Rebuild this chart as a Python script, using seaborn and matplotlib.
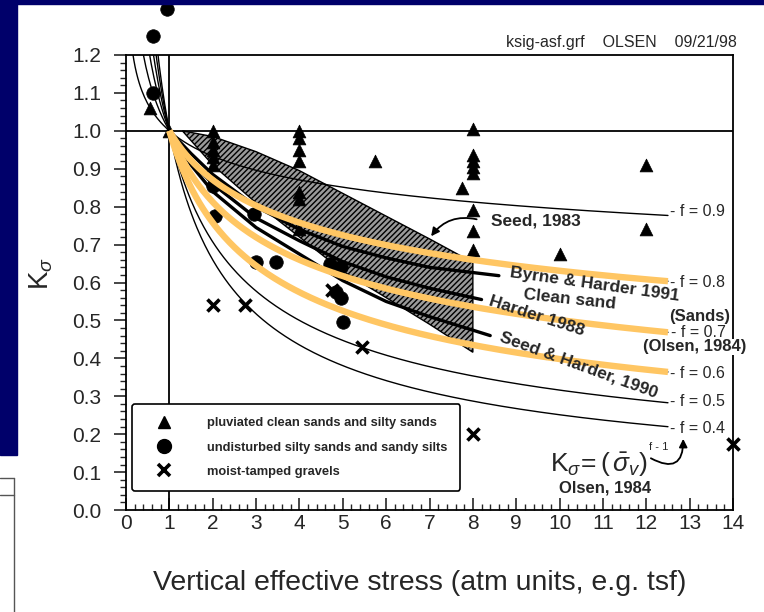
import numpy as np
import pandas as pd
import matplotlib
matplotlib.use("Agg")
import matplotlib.pyplot as plt
import seaborn as sns
from matplotlib.patches import Polygon, Rectangle
from matplotlib.lines import Line2D
from matplotlib.ticker import MultipleLocator, FormatStrFormatter

sns.set_theme(style="white")
plt.rcParams['font.family'] = ['Liberation Sans', 'DejaVu Sans']
plt.rcParams['mathtext.fontset'] = 'custom'
plt.rcParams['mathtext.rm'] = 'Liberation Sans'
plt.rcParams['mathtext.it'] = 'Liberation Sans:italic'
plt.rcParams['mathtext.sf'] = 'Liberation Sans'
plt.rcParams['hatch.linewidth'] = 1.0
plt.rcParams['hatch.color'] = 'black'

# ---- data -------------------------------------------------------------
# exponent f of the Olsen (1984) relation K_sigma = sigma_v ** (f - 1)
f_values = [0.9, 0.8, 0.7, 0.6, 0.5, 0.4]
highlight_f = [0.8, 0.7, 0.6]
f_label_k = [0.786, 0.599, 0.467, 0.361, 0.285, 0.216]

# pluviated clean sands and silty sands
tri_x = [0.55, 1.0, 2.0, 2.0, 2.0, 2.0, 2.0, 4.0, 4.0, 4.0, 4.0, 4.0, 4.0, 4.0,
         5.75, 7.75, 8.0, 8.0, 8.0, 8.0, 8.0, 8.0, 8.0, 8.0, 10.0, 12.0, 12.0]
tri_k = [1.06, 1.0, 1.0, 0.97, 0.95, 0.93, 0.91, 1.0, 0.98, 0.95, 0.92, 0.84, 0.82, 0.74,
         0.92, 0.85, 1.005, 0.935, 0.92, 0.905, 0.89, 0.79, 0.735, 0.685, 0.675, 0.91, 0.74]

# undisturbed silty sands and sandy silts
cir_x = [0.62, 0.95, 0.62, 2.0, 2.05, 2.95, 3.0, 3.45, 4.7, 4.95, 4.85, 4.95, 5.0]
cir_k = [1.25, 1.32, 1.10, 0.855, 0.775, 0.78, 0.655, 0.655, 0.65, 0.64, 0.575, 0.56, 0.495]

# moist-tamped gravels
grv_x = [2.0, 2.75, 4.75, 5.45, 8.0, 14.0]
grv_k = [0.54, 0.54, 0.58, 0.43, 0.20, 0.175]

# Seed (1983) band
band_x = [1.3, 2.0, 3.0, 4.0, 5.0, 6.0, 7.0, 8.0, 8.0, 7.0, 6.0, 5.0, 4.0, 3.0, 2.0, 1.3]
band_k = [1.0, 0.985, 0.945, 0.895, 0.835, 0.775, 0.715, 0.653, 0.416, 0.49, 0.56, 0.63, 0.72, 0.81, 0.91, 1.0]

# published relations
byrne_x = [1.0, 1.5, 2.0, 3.0, 4.0, 5.0, 6.0, 7.0, 8.6]
byrne_k = [1.0, 0.94, 0.885, 0.80, 0.74, 0.695, 0.665, 0.64, 0.618]
harder_x = [1.0, 1.5, 2.0, 3.0, 4.0, 5.0, 6.0, 7.0, 8.2]
harder_k = [1.0, 0.92, 0.86, 0.77, 0.71, 0.655, 0.615, 0.585, 0.555]
seedh_x = [1.0, 1.5, 2.0, 3.0, 4.0, 5.0, 6.0, 7.0, 8.4]
seedh_k = [1.0, 0.91, 0.84, 0.745, 0.675, 0.605, 0.55, 0.51, 0.46]

x_ticks = list(range(0, 15))
y_ticks = [0.0, 0.1, 0.2, 0.3, 0.4, 0.5, 0.6, 0.7, 0.8, 0.9, 1.0, 1.1, 1.2]

# ---- figure -------------------------------------------------------------
W, H = 764, 612
fig = plt.figure(figsize=(W / 100, H / 100), dpi=100, facecolor='white')
ax = fig.add_axes([126 / W, 1 - 510 / H, 607 / W, 455 / H])
ax.set_facecolor('white')

navy = '#00006a'
fig.patches.append(Rectangle((0, 1 - 4 / H), 1, 4 / H, transform=fig.transFigure,
                             color=navy, zorder=0))
fig.patches.append(Rectangle((0, 1 - 455 / H), 17 / W, 455 / H, transform=fig.transFigure,
                             color=navy, zorder=0))
for (x0, y0, x1, y1) in [(0, 478, 14, 478), (14, 478, 14, 612), (0, 495, 14, 495)]:
    fig.lines.append(Line2D([x0 / W, x1 / W], [1 - y0 / H, 1 - y1 / H],
                            transform=fig.transFigure, color='#555555', lw=1.0))

# hatched band
ax.add_patch(Polygon(np.column_stack([band_x, band_k]), closed=True, facecolor='#9a9a9a',
                     edgecolor='black', hatch='//////', lw=1.0, zorder=2))

# f curves
sig = np.linspace(0.15, 12.5, 400)
curves = pd.concat([pd.DataFrame({'stress': sig, 'K': sig ** (f - 1), 'f': str(f)})
                    for f in f_values])
sns.lineplot(data=curves, x='stress', y='K', units='f', estimator=None, color='black',
             lw=1.0, sort=False, ax=ax, zorder=3)

# published relations
for xs, ks in [(byrne_x, byrne_k), (harder_x, harder_k), (seedh_x, seedh_k)]:
    sns.lineplot(x=xs, y=ks, color='black', lw=2.4, ax=ax, zorder=4, sort=False)

# highlighted curves
sig_h = np.linspace(1.0, 12.5, 300)
hl = pd.concat([pd.DataFrame({'stress': sig_h, 'K': sig_h ** (f - 1), 'f': str(f)})
                for f in highlight_f])
sns.lineplot(data=hl, x='stress', y='K', units='f', estimator=None, color='#ffc663',
             lw=4.6, sort=False, ax=ax, zorder=6, solid_capstyle='butt')

# reference lines
ax.axhline(1.0, color='black', lw=1.3, zorder=3)
ax.axvline(1.0, color='black', lw=1.3, zorder=3)

# points
sns.scatterplot(x=tri_x, y=tri_k, marker='^', s=85, color='black', edgecolor='black',
                linewidth=0.5, ax=ax, zorder=5)
sns.scatterplot(x=cir_x, y=cir_k, marker='o', s=95, color='black', edgecolor='black',
                linewidth=0.5, ax=ax, zorder=5)
sns.scatterplot(x=grv_x, y=grv_k, marker='x', s=75, color='black', linewidth=2.6,
                ax=ax, zorder=5)
for coll in ax.collections:
    coll.set_clip_on(False)

# axes
ax.set_xlim(0, 14)
ax.set_ylim(0, 1.2)
ax.set_xticks(x_ticks)
ax.set_yticks(y_ticks)
ax.yaxis.set_major_formatter(FormatStrFormatter('%.1f'))
ax.xaxis.set_minor_locator(MultipleLocator(0.2))
ax.yaxis.set_minor_locator(MultipleLocator(0.02))
ax.tick_params(axis='x', which='major', direction='in', length=9, width=1.2,
               labelsize=15, pad=3, bottom=True)
ax.tick_params(axis='x', which='minor', direction='in', length=4, width=1.0, bottom=True)
ax.tick_params(axis='y', which='major', direction='out', length=9, width=1.2,
               labelsize=15, pad=9, left=True)
ax.tick_params(axis='y', which='minor', direction='out', length=4, width=1.0, left=True)
for sp in ax.spines.values():
    sp.set_color('black')
    sp.set_linewidth(1.3)

ax.set_xlabel('Vertical effective stress (atm units, e.g. tsf)', fontsize=20.5)
ax.xaxis.set_label_coords(0.484, -0.132)
ax.set_ylabel(r'K$_\sigma$', fontsize=20, rotation=90)
ax.yaxis.set_label_coords(-0.117, 0.52)

# curve labels
for f, k in zip(f_values, f_label_k):
    if f == 0.7:
        continue
    ax.text(12.55, k, f'- f = {f}', fontsize=11.5, va='center', ha='left', zorder=7)
kw = dict(fontsize=12, fontweight='bold', ha='center', va='center', zorder=8,
          bbox=dict(facecolor='white', edgecolor='none', pad=0.3))
ax.text(13.24, 0.511, '(Sands)', **kw)
ax.text(13.2, 0.468, '- f = 0.7', fontsize=11.5, ha='center', va='center', zorder=8,
        bbox=dict(facecolor='white', edgecolor='none', pad=0.1))
ax.text(13.12, 0.430, '(Olsen, 1984)', **kw)

bold = dict(fontsize=12.5, fontweight='bold', ha='center', va='center', zorder=7)
ax.text(9.46, 0.763, 'Seed, 1983', **bold)
ax.annotate('', xy=(7.0, 0.716), xytext=(8.15, 0.765),
            arrowprops=dict(arrowstyle='-|>', color='black', lw=1.3,
                            connectionstyle='arc3,rad=0.35'), zorder=7)
ax.text(10.82, 0.594, 'Byrne & Harder 1991', rotation=-8, **bold)
ax.text(10.24, 0.556, 'Clean sand', rotation=-6, **bold)
ax.text(9.46, 0.512, 'Harder 1988', rotation=-18, **bold)
ax.text(10.45, 0.383, 'Seed & Harder, 1990', rotation=-20, **bold)

ax.text(10.9, 0.12, r'$\mathrm{K}_\sigma\!= (\,\bar{\sigma}_v)$', fontsize=19,
        ha='center', va='center', zorder=7)
ax.text(12.28, 0.165, 'f - 1', fontsize=8, ha='center', va='center', zorder=7)
ax.text(11.05, 0.058, 'Olsen, 1984', fontsize=12, fontweight='bold', ha='center',
        va='center', zorder=7)
ax.annotate('', xy=(12.85, 0.195), xytext=(12.05, 0.14),
            arrowprops=dict(arrowstyle='-|>', color='black', lw=1.3,
                            connectionstyle='arc3,rad=0.9'), zorder=7)

fig.text(737 / W, 1 - 42 / H, 'ksig-asf.grf    OLSEN    09/21/98', fontsize=11.5,
         ha='right', va='center')

# legend
handles = [
    Line2D([], [], marker='^', color='black', ls='none', markersize=9),
    Line2D([], [], marker='o', color='black', ls='none', markersize=10),
    Line2D([], [], marker='x', color='black', ls='none', markersize=9, mew=2.6),
]
labels = ['pluviated clean sands and silty sands',
          'undisturbed silty sands and sandy silts',
          'moist-tamped gravels']
leg = ax.legend(handles, labels, loc='lower left', bbox_to_anchor=(0.01, 0.042),
                frameon=True, fancybox=True, edgecolor='black', framealpha=1,
                prop={'size': 9.3, 'weight': 'bold'}, borderpad=1.0, labelspacing=0.95,
                handlelength=3.0, handletextpad=1.8, borderaxespad=0)
leg.get_frame().set_linewidth(1.2)
leg.set_zorder(9)

fig.savefig('out.png', dpi=100, facecolor='white')
